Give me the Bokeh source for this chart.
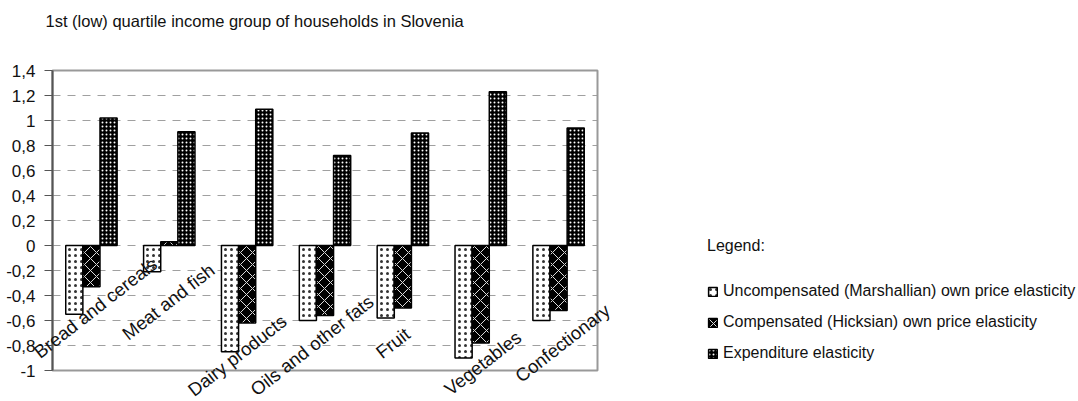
from bokeh.plotting import figure
from bokeh.models import Range1d, FixedTicker, Label, Legend, LegendItem, LinearAxis
from bokeh.embed import file_html
from bokeh.resources import INLINE

title_text = "1st (low) quartile income group of households in Slovenia"
categories = ["Bread and cereals", "Meat and fish", "Dairy products",
              "Oils and other fats", "Fruit", "Vegetables", "Confectionary"]
uncompensated = [-0.55, -0.21, -0.85, -0.60, -0.58, -0.90, -0.60]
compensated = [-0.33, 0.03, -0.62, -0.56, -0.50, -0.78, -0.52]
expenditure = [1.02, 0.91, 1.09, 0.72, 0.90, 1.23, 0.94]
series_names = ["Uncompensated (Marshallian) own price elasticity",
                "Compensated (Hicksian) own price elasticity",
                "Expenditure elasticity"]
y_ticks = [-1, -0.8, -0.6, -0.4, -0.2, 0, 0.2, 0.4, 0.6, 0.8, 1, 1.2, 1.4]
y_tick_labels = ["-1", "-0,8", "-0,6", "-0,4", "-0,2", "0", "0,2", "0,4", "0,6", "0,8", "1", "1,2", "1,4"]

# layout of the staggered rotated category labels (centre y in axis units, x shift in px)
label_y = [-0.50, -0.45, -0.88, -0.80, -0.78, -0.94, -0.78]
label_dx = [4, -1, -10, -13, -10, 2, 4]

FONT = "Liberation Sans"
n = len(categories)
centers = [i + 0.5 for i in range(n)]
bw = 0.22

W, H = 1076, 400
left_px, top_px = 52, 70          # position of plot box in the canvas
px_x = 545 / n                    # pixels per category
px_y = 300 / (y_ticks[-1] - y_ticks[0])
x0 = -left_px / px_x
x1 = (W - left_px) / px_x
y1 = y_ticks[-1] + top_px / px_y
y0 = y_ticks[-1] - (H - top_px) / px_y

p = figure(width=W, height=H, output_backend="svg", toolbar_location=None,
           x_range=Range1d(x0, x1), y_range=Range1d(y0, y1),
           x_axis_location=None, y_axis_location=None,
           min_border=0)
p.background_fill_color = "white"
p.border_fill_color = "white"
p.outline_line_color = None
p.xgrid.visible = False
p.ygrid.visible = False

# dashed gridlines inside the plot box
grid_ticks = y_ticks[:-1]
p.segment(x0=[0] * len(grid_ticks), x1=[n] * len(grid_ticks), y0=grid_ticks, y1=grid_ticks,
          line_color="#a0a0a0", line_dash="8 7", line_width=1)
# plot box
p.quad(left=[0], right=[n], bottom=[y_ticks[0]], top=[y_ticks[-1]],
       fill_color=None, line_color="#999999", line_width=2)

ya = LinearAxis(fixed_location=0, bounds=(y_ticks[0], y_ticks[-1]))
ya.ticker = FixedTicker(ticks=y_ticks)
ya.major_label_overrides = {t: l for t, l in zip(y_ticks, y_tick_labels)}
ya.major_label_text_font = FONT
ya.major_label_text_font_size = "17px"
ya.major_label_text_color = "#111111"
ya.axis_line_color = "#555555"
ya.axis_line_width = 2
ya.major_tick_line_color = "#555555"
ya.major_tick_in = 0
ya.major_tick_out = 8
ya.minor_tick_line_color = None
ya.major_label_standoff = 9
p.add_layout(ya, "left")

r1 = p.vbar(x=[c - bw for c in centers], top=uncompensated, bottom=0, width=bw,
            fill_color="white", line_color="black", line_width=1.5,
            hatch_pattern="dot", hatch_color="#333333", hatch_scale=6, hatch_weight=1.2)
r2 = p.vbar(x=centers, top=compensated, bottom=0, width=bw,
            fill_color="black", line_color="black", line_width=1.5,
            hatch_pattern="diagonal_cross", hatch_color="#dddddd", hatch_scale=12, hatch_weight=1)
r3 = p.vbar(x=[c + bw for c in centers], top=expenditure, bottom=0, width=bw,
            fill_color="black", line_color="black", line_width=1.5,
            hatch_pattern="dot", hatch_color="white", hatch_scale=4, hatch_weight=2)

for c, name, ly, dx in zip(centers, categories, label_y, label_dx):
    p.add_layout(Label(x=c, y=ly, x_offset=dx, text=name, angle=38, angle_units="deg",
                       text_align="center", text_baseline="middle",
                       text_font=FONT, text_font_size="18.5px", text_color="#111111"))

p.add_layout(Label(x=45, y=H - 20, x_units="screen", y_units="screen",
                   text=title_text, text_font=FONT, text_font_size="16.5px", text_color="#111111",
                   text_baseline="middle"))

legend = Legend(items=[LegendItem(label=series_names[0], renderers=[r1]),
                       LegendItem(label=series_names[1], renderers=[r2]),
                       LegendItem(label=series_names[2], renderers=[r3])],
                location=(707, 38), title="Legend:",
                title_text_font=FONT, title_text_font_size="16px", title_text_font_style="normal",
                title_text_color="#111111", title_standoff=27,
                label_text_font=FONT, label_text_font_size="16px", label_text_color="#111111",
                glyph_width=11, glyph_height=11, label_standoff=5,
                label_height=16, spacing=13, padding=0, margin=0,
                border_line_color=None, background_fill_alpha=0)
p.add_layout(legend)

open("out.html", "w").write(file_html(p, INLINE))
